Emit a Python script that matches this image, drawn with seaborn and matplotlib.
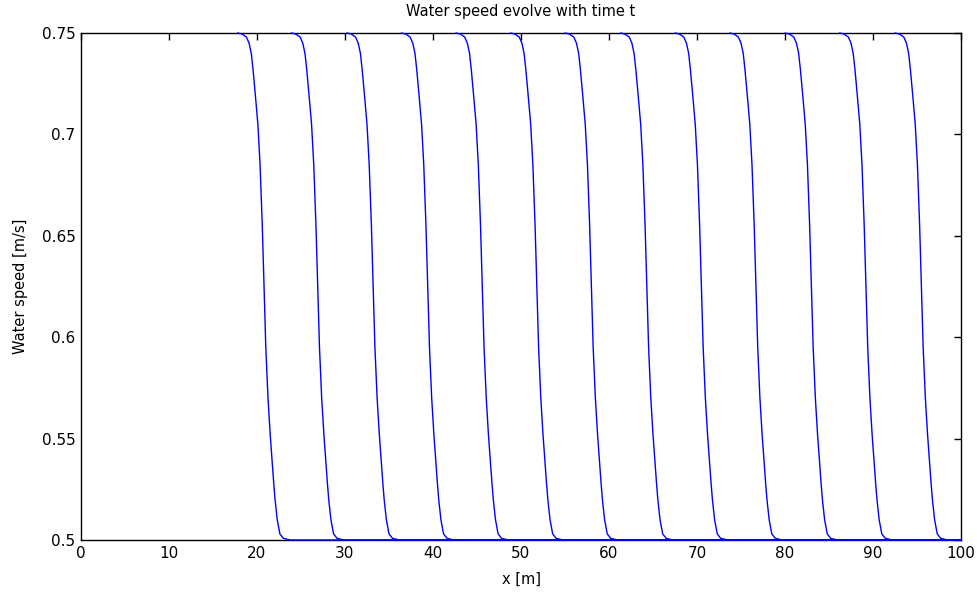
import numpy as np
import pandas as pd
import matplotlib
matplotlib.use("Agg")
import matplotlib.pyplot as plt
import seaborn as sns

# Front positions (x at mid-height, metres)
front_x = [20.8, 26.9, 33.2, 39.4, 45.6, 51.8, 58.0, 64.3, 70.5, 76.7, 83.0, 89.2, 95.5]
# Shape of one front: offset from front [m] and speed [m/s]
profile_dx = [-3.0, -2.5, -2.0, -1.7, -1.45, -1.25, -1.0, -0.7, -0.45, -0.2, 0.0,
              0.2, 0.45, 0.7, 0.9, 1.1, 1.25, 1.5, 1.8, 2.2, 3.0]
profile_v = [0.75, 0.7495, 0.748, 0.745, 0.740, 0.732, 0.720, 0.705, 0.685, 0.655, 0.625,
             0.595, 0.570, 0.552, 0.540, 0.528, 0.520, 0.510, 0.503, 0.5008, 0.5]
x_end = 100
v_low = 0.5

xticks = list(range(0, 101, 10))
yticks = [0.5, 0.55, 0.6, 0.65, 0.7, 0.75]
ytick_labels = ["0.5", "0.55", "0.6", "0.65", "0.7", "0.75"]

rows = []
for i, f in enumerate(front_x):
    xs = [f + d for d in profile_dx]
    vs = list(profile_v)
    if xs[-1] < x_end:
        xs.append(x_end)
        vs.append(v_low)
    for j, (xx, vv) in enumerate(zip(xs, vs)):
        rows.append({"curve": i, "order": j, "x": min(xx, x_end), "v": vv})
df = pd.DataFrame(rows)

sns.set_style("white")
plt.rcParams['font.family'] = ['DejaVu Sans']
plt.rcParams['text.color'] = 'black'
plt.rcParams['axes.labelcolor'] = 'black'

fig = plt.figure(figsize=(9.77, 5.99), dpi=100)
ax = fig.add_axes([81 / 977, 1 - 540 / 599, 880 / 977, 507 / 599])

sns.lineplot(data=df, x="x", y="v", hue="curve", units="curve", estimator=None,
             sort=False, palette=["#0000ff"] * len(front_x), legend=False,
             linewidth=1.0, ax=ax, zorder=3, clip_on=False)

ax.set_xlim(0, 100)
ax.set_ylim(0.5, 0.75)
ax.set_xticks(xticks)
ax.set_yticks(yticks)
ax.set_yticklabels(ytick_labels)
ax.tick_params(direction="in", length=5, width=1, top=True, right=True,
               labelsize=11, colors="black", pad=4)
for s in ax.spines.values():
    s.set_visible(True)
    s.set_color("black")
    s.set_linewidth(1.0)
ax.set_title("Water speed evolve with time t", fontsize=10.5, pad=12, color="black")
ax.set_xlabel("x [m]", fontsize=10.5, labelpad=8)
ax.set_ylabel("Water speed [m/s]", fontsize=10.5, labelpad=10)

fig.savefig("out.png", dpi=100)
